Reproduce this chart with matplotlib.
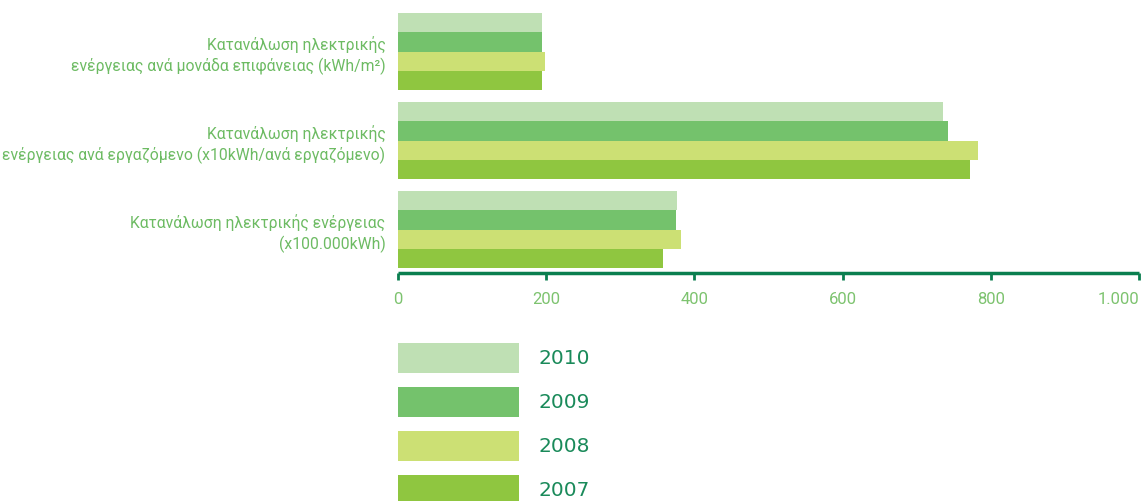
import matplotlib
matplotlib.use("Agg")
import matplotlib.pyplot as plt
from matplotlib.patches import Rectangle
import numpy as np

categories = [
    "Κατανάλωση ηλεκτρικής ενέργειας\n(x100.000kWh)",
    "Κατανάλωση ηλεκτρικής\nενέργειας ανά εργαζόμενο (x10kWh/ανά εργαζόμενο)",
    "Κατανάλωση ηλεκτρικής\nενέργειας ανά μονάδα επιφάνειας (kWh/m²)",
]
years = ["2010", "2009", "2008", "2007"]
values = {
    "2010": [376, 735, 194],
    "2009": [375, 742, 194],
    "2008": [382, 783, 198],
    "2007": [358, 772, 194],
}
xticks = [0, 200, 400, 600, 800, 1000]
xticklabels = ["0", "200", "400", "600", "800", "1.000"]
colors = {"2010": "#bfe0b4", "2009": "#74c26c", "2008": "#cce074", "2007": "#8fc640"}

W, H = 1145, 501
fig = plt.figure(figsize=(W / 100, H / 100), dpi=100)
ax = fig.add_axes([398 / W, 1 - 273 / H, (1139 - 398) / W, (273 - 13) / H])

font = "Roboto"
label_color = "#6dbb63"
axis_color = "#0a7f4f"

h = 19.3 / 89
offsets = [1.5 * h, 0.5 * h, -0.5 * h, -1.5 * h]
y = np.arange(len(categories))
for yr, off in zip(years, offsets):
    ax.barh(y + off, values[yr], height=h, color=colors[yr], label=yr, linewidth=0)

ax.set_xlim(0, 1000)
ax.set_ylim(-(273 - 229.5) / 89, 2 + (51.5 - 13) / 89)
for s in ["top", "right", "left"]:
    ax.spines[s].set_visible(False)
ax.spines["bottom"].set_color(axis_color)
ax.spines["bottom"].set_linewidth(2.5)
ax.spines["bottom"].set_capstyle("butt")
ax.set_xticks(xticks)
ax.set_xticklabels(xticklabels, family=font, fontsize=12, color="#7dc36f")
ax.get_xticklabels()[-1].set_horizontalalignment("right")
ax.tick_params(axis="x", direction="out", length=5, width=2, color=axis_color, pad=9)
ax.set_yticks(y)
ax.set_yticklabels(categories, family=font, fontsize=11.3, color=label_color,
                   linespacing=1.35)
ax.tick_params(axis="y", length=0, pad=9)

# legend drawn as boxes with labels
box_x0, box_x1 = 398, 519
box_top0, box_h, pitch = 343, 30, 44
for i, yr in enumerate(years):
    top = box_top0 + i * pitch
    fig.patches.append(Rectangle((box_x0 / W, 1 - (top + box_h) / H), (box_x1 - box_x0) / W,
                                 box_h / H, transform=fig.transFigure,
                                 facecolor=colors[yr], edgecolor="none"))
    fig.text(539 / W, 1 - (top + box_h / 2 + 1) / H, yr, family="DejaVu Sans", fontsize=14.5,
             color="#1a8a5a", va="center", ha="left")

fig.savefig("out.png", dpi=100)
